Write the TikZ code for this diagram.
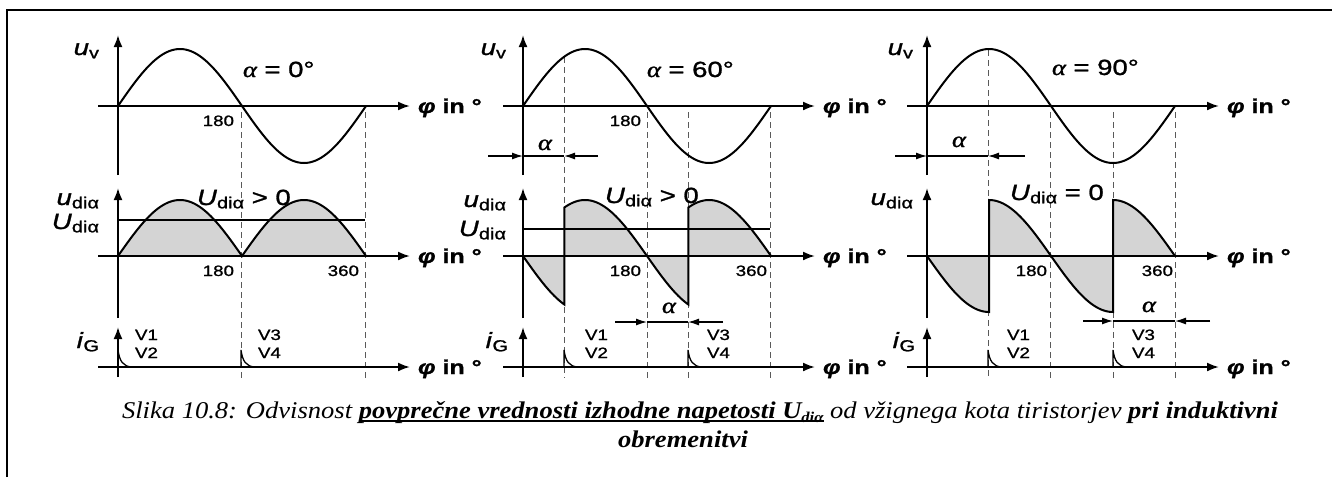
\documentclass[tikz,border=0pt]{standalone}
\usepackage{fontspec}
\usepackage{graphicx}
\setmainfont{Liberation Sans}[FakeStretch=1.25,FakeBold=1.2]
\newfontfamily\capfont{Liberation Serif}
\newfontfamily\grkfont{Liberation Serif}[FakeStretch=1.2,FakeBold=1.5]
\usetikzlibrary{arrows.meta}
\newcommand\sz[1]{\fontsize{#1}{#1}\selectfont}
\newcommand\Sb[1]{\raisebox{-0.15em}{\sz{16}#1}}
\newcommand\myul[1]{\setbox0\hbox{#1}\rlap{\rule[-3.5pt]{\wd0}{2pt}}\box0}
\newcommand\al{{\grkfont\itshape α}}
\newcommand\phin{\sz{20}\bfseries\textit{φ} in °}
\newsavebox\capA
\newlength\capw
\def\dk{0.68889}
\def\gsx{1}
\tikzset{
  axis/.style={line width=2pt,-{Latex[length=12pt,width=9pt]}},
  curve/.style={line width=2pt},
  guide/.style={line width=1pt,black!65,dash pattern=on 6pt off 4pt},
  shade/.style={fill=black!17},
  dimarrow/.style={line width=1.3pt,-{Latex[length=11pt,width=7pt]}},
  dimline/.style={line width=1.3pt},
  mean/.style={line width=1.6pt},
  lbl/.style={inner sep=0pt,outer sep=0pt},
}
% axes, sine and axis labels of one panel: #1 = origin x, #2 = name prefix
\newcommand\axes[2]{%
  \draw[axis] (#1-20,106) -- (#1+292,106);
  \draw[axis] (#1,175) -- (#1,35);
  \draw[axis] (#1-20,256) -- (#1+292,256);
  \draw[axis] (#1,318) -- (#1,188);
  \draw[axis] (#1-20,367) -- (#1+292,367);
  \draw[axis] (#1,377) -- (#1,327);
  \draw[curve] plot[domain=0:360,samples=121,variable=\t] ({#1+\t*\dk},{106-57*sin(\t)});
  \node[lbl,anchor=base west] (#2-phi1) at (#1+300,113) {\phin};
  \node[lbl,anchor=base west] (#2-phi2) at (#1+300,263) {\phin};
  \node[lbl,anchor=base west] (#2-phi3) at (#1+300,374) {\phin};
}
\newcommand\pulse[1]{\draw[line width=1.3pt] (#1,367) -- (#1,350) .. controls (#1+1.5,361) and (#1+5,366.5) .. (#1+14,367);}
% controlled waveform: #1 = origin x, #2 = firing angle
\newcommand\wavepath[2]{(#1,256) -- plot[domain=0:#2,samples=40,variable=\t] ({#1+\t*\dk},{256+56*sin(\t)})
  -- plot[domain=#2:#2+180,samples=90,variable=\t] ({#1+\t*\dk},{256-56*sin(\t)})
  -- plot[domain=#2+180:360,samples=40,variable=\t] ({#1+\t*\dk},{256+56*sin(\t)})}
\begin{document}
\begin{tikzpicture}[x=1pt,y=-1pt]
\useasboundingbox (0,0) rectangle (1332,477);
\fill[white] (0,0) rectangle (1332,477);
\coordinate (fbl) at (7,477);
\coordinate (ftl) at (7,10);
\coordinate (ftr) at (1332,10);
\draw[line width=2pt] (fbl) -- (ftl) -- (ftr);

% ---------------- panel 1 : alpha = 0
\fill[shade] plot[domain=0:360,samples=181,variable=\t] ({118+\t*\dk},{256-56*abs(sin(\t))}) -- cycle;
\draw[guide] (241,112) -- (241,378);
\draw[guide] (365,112) -- (365,378);
\axes{118}{p1}
\draw[curve] plot[domain=0:360,samples=181,variable=\t] ({118+\t*\dk},{256-56*abs(sin(\t))});
\draw[mean] (118,220) -- (365,220);
\pulse{118}\pulse{241}
\node[lbl,anchor=base east] (p1-uv) at (99,55) {\sz{22}\textit{u}\Sb{v}};
\node[lbl,anchor=base west] (p1-al) at (243,77) {\sz{22}\al{} = 0°};
\node[lbl,anchor=base east] (p1-180a) at (234,126) {\sz{15}180};
\node[lbl,anchor=base east] (p1-ud) at (99,205) {\sz{22}\textit{u}\Sb{diα}};
\node[lbl,anchor=base east] (p1-Ud) at (99,229) {\sz{22}\textit{U}\Sb{diα}};
\node[lbl,anchor=base west] (p1-Ug) at (197,205) {\sz{22}\textit{U}\Sb{diα} > 0};
\node[lbl,anchor=base east] (p1-180b) at (234,276) {\sz{15}180};
\node[lbl,anchor=base east] (p1-360) at (359,276) {\sz{15}360};
\node[lbl,anchor=base east] (p1-iG) at (99,348) {\sz{22}\textit{i}\Sb{G}};
\node[lbl,anchor=base west] (p1-V1) at (135,340) {\sz{15}V1};
\node[lbl,anchor=base west] (p1-V2) at (135,358) {\sz{15}V2};
\node[lbl,anchor=base west] (p1-V3) at (258,340) {\sz{15}V3};
\node[lbl,anchor=base west] (p1-V4) at (258,358) {\sz{15}V4};

% ---------------- panel 2 : alpha = 60
\fill[shade] \wavepath{523}{60} -- cycle;
\draw[guide] (564,57) -- (564,378);
\draw[guide] (647,112) -- (647,378);
\draw[guide] (688,112) -- (688,378);
\draw[guide] (770,112) -- (770,378);
\axes{523}{p2}
\draw[curve] \wavepath{523}{60};
\draw[mean] (523,229) -- (770,229);
\pulse{564}\pulse{688}
\draw[dimarrow] (488,156) -- (523,156);
\draw[dimline] (523,156) -- (564,156);
\draw[dimarrow] (598,156) -- (564,156);
\draw[dimarrow] (615,322) -- (647,322);
\draw[dimline] (647,322) -- (688,322);
\draw[dimarrow] (723,322) -- (688,322);
\node[lbl,anchor=base east] (p2-uv) at (506,55) {\sz{22}\textit{u}\Sb{v}};
\node[lbl,anchor=base west] (p2-al) at (647,77) {\sz{22}\al{} = 60°};
\node[lbl,anchor=base east] (p2-180a) at (641,126) {\sz{15}180};
\node[lbl,anchor=base west] (p2-a1) at (538,150) {\sz{22}\al};
\node[lbl,anchor=base east] (p2-ud) at (506,207) {\sz{22}\textit{u}\Sb{diα}};
\node[lbl,anchor=base east] (p2-Ud) at (506,236) {\sz{22}\textit{U}\Sb{diα}};
\node[lbl,anchor=base west] (p2-Ug) at (605,203) {\sz{22}\textit{U}\Sb{diα} > 0};
\node[lbl,anchor=base east] (p2-180b) at (641,276) {\sz{15}180};
\node[lbl,anchor=base east] (p2-360) at (767,276) {\sz{15}360};
\node[lbl,anchor=base west] (p2-a2) at (662,313) {\sz{22}\al};
\node[lbl,anchor=base east] (p2-iG) at (508,348) {\sz{22}\textit{i}\Sb{G}};
\node[lbl,anchor=base west] (p2-V1) at (585,340) {\sz{15}V1};
\node[lbl,anchor=base west] (p2-V2) at (585,358) {\sz{15}V2};
\node[lbl,anchor=base west] (p2-V3) at (707,340) {\sz{15}V3};
\node[lbl,anchor=base west] (p2-V4) at (707,358) {\sz{15}V4};

% ---------------- panel 3 : alpha = 90
\fill[shade] \wavepath{927}{90} -- cycle;
\draw[guide] (988,50) -- (988,378);
\draw[guide] (1050,112) -- (1050,378);
\draw[guide] (1113,112) -- (1113,378);
\draw[guide] (1175,112) -- (1175,378);
\axes{927}{p3}
\draw[curve] \wavepath{927}{90};
\pulse{988}\pulse{1113}
\draw[dimarrow] (895,156) -- (927,156);
\draw[dimline] (927,156) -- (988,156);
\draw[dimarrow] (1025,156) -- (988,156);
\draw[dimarrow] (1083,321) -- (1113,321);
\draw[dimline] (1113,321) -- (1175,321);
\draw[dimarrow] (1210,321) -- (1175,321);
\node[lbl,anchor=base east] (p3-uv) at (913,55) {\sz{22}\textit{u}\Sb{v}};
\node[lbl,anchor=base west] (p3-al) at (1052,75) {\sz{22}\al{} = 90°};
\node[lbl,anchor=base west] (p3-a1) at (952,147) {\sz{22}\al};
\node[lbl,anchor=base east] (p3-ud) at (913,205) {\sz{22}\textit{u}\Sb{diα}};
\node[lbl,anchor=base west] (p3-Ug) at (1010,200) {\sz{22}\textit{U}\Sb{diα} = 0};
\node[lbl,anchor=base east] (p3-180b) at (1047,276) {\sz{15}180};
\node[lbl,anchor=base east] (p3-360) at (1173,276) {\sz{15}360};
\node[lbl,anchor=base west] (p3-a2) at (1142,312) {\sz{22}\al};
\node[lbl,anchor=base east] (p3-iG) at (915,348) {\sz{22}\textit{i}\Sb{G}};
\node[lbl,anchor=base west] (p3-V1) at (1007,340) {\sz{15}V1};
\node[lbl,anchor=base west] (p3-V2) at (1007,358) {\sz{15}V2};
\node[lbl,anchor=base west] (p3-V3) at (1132,340) {\sz{15}V3};
\node[lbl,anchor=base west] (p3-V4) at (1132,358) {\sz{15}V4};

% ---------------- caption
\node[lbl,anchor=base] (cap1) at (700,418) {%
  \sbox\capA{\capfont\sz{24}\itshape Slika 10.8: Odvisnost \myul{\bfseries povprečne vrednosti izhodne napetosti U\raisebox{-0.2em}{\sz{15}diα}}\ od vžignega kota tiristorjev {\bfseries pri induktivni}}%
  \setlength\capw{\wd\capA}%
  \pgfmathsetmacro\sx{1156/\capw}%
  \global\let\gsx\sx
  \scalebox{\sx}[1]{\usebox\capA}};
\node[lbl,anchor=base] (cap2) at (683,447) {\scalebox{\gsx}[1]{\capfont\sz{24}\itshape\bfseries obremenitvi}};
\end{tikzpicture}
\end{document}
